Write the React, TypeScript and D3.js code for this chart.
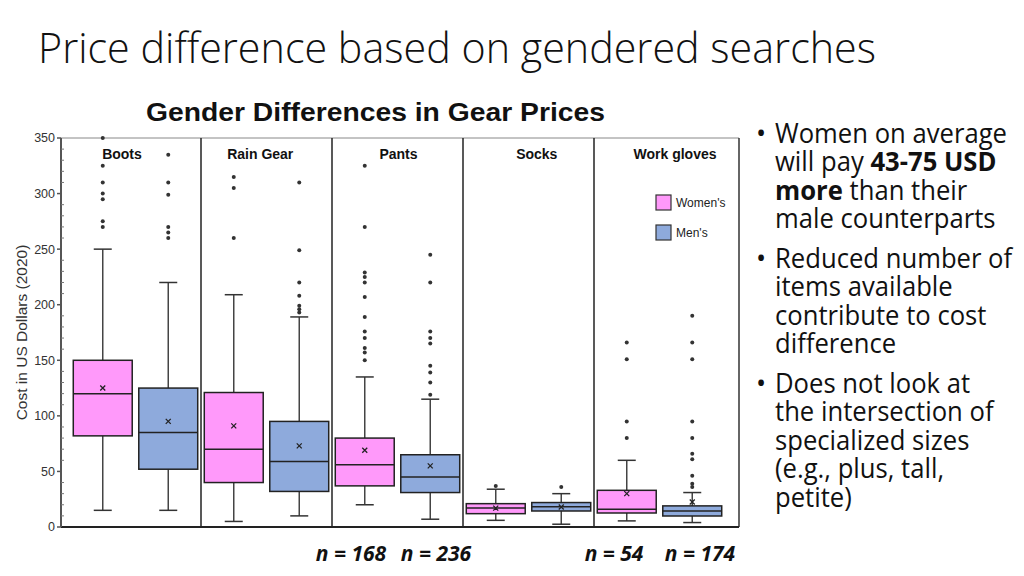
import React from "react";
import * as d3 from "d3";

const categories = ["Boots", "Rain Gear", "Pants", "Socks", "Work gloves"];
const genders = ["Women's", "Men's"];

const womenQ1 = [82, 40, 37, 12, 12.6];
const womenMedian = [120, 70, 56, 17, 16];
const womenQ3 = [150, 121, 80, 21, 33];
const womenLow = [15, 5, 20, 6, 5.5];
const womenHigh = [250, 209, 135, 34, 60];
const womenMean = [125, 91, 69, 17, 30];
const womenOutliers = [
  [350, 325, 310, 300, 295, 275, 270],
  [315, 305, 260],
  [325, 270, 229, 225, 220, 207, 189, 176, 170, 161, 157, 150],
  [37],
  [166, 151, 95, 80],
];

const menQ1 = [52, 32, 31, 14.4, 9.9];
const menMedian = [85, 59, 45, 18.3, 14.4];
const menQ3 = [125, 95, 65, 22, 19];
const menLow = [15, 10, 7, 2.5, 4];
const menHigh = [220, 189, 115, 30, 31];
const menMean = [95, 73, 55, 18, 22.5];
const menOutliers = [
  [335, 310, 299, 270, 265, 260],
  [310, 249, 220, 208, 199, 196, 193],
  [245, 220, 176, 170, 165, 145, 139, 130, 119],
  [36],
  [190, 166, 151, 95, 80, 66, 61, 46, 39, 36],
];

const yMajorTicks = [0, 50, 100, 150, 200, 250, 300, 350];
const sampleLabels = ["n = 168", "n = 236", "n = 54", "n = 174"];

const colors: Record<string, string> = { "Women's": "#ff99fa", "Men's": "#8eaadc" };

const slideTitle = "Price difference based on gendered searches";
const chartTitle = "Gender Differences in Gear Prices";
const yTitle = "Cost in US Dollars (2020)";

export default function App() {
  const W = 1024, H = 576;
  const frameLeft = 61, frameRight = 739, frameTop = 138, frameBottom = 527;
  const y = d3.scaleLinear().domain([0, 350]).range([frameBottom, frameTop]);
  const x0 = d3.scaleBand<string>().domain(categories).range([70, 725]).padding(0);
  const x1 = d3
    .scaleBand<string>()
    .domain(genders)
    .range([0, x0.bandwidth()])
    .paddingInner(0.1)
    .paddingOuter(0.05);
  const labelX = d3.scalePoint<string>().domain(categories).range([122, 675]);
  const minorTicks = d3.range(0, 351, 10).filter((v) => v % 50 !== 0);

  type Box = {
    cat: string; g: string; q1: number; med: number; q3: number; lo: number; hi: number; mean: number; out: number[];
  };
  const boxes: Box[] = [];
  categories.forEach((c, i) => {
    boxes.push({ cat: c, g: "Women's", q1: womenQ1[i], med: womenMedian[i], q3: womenQ3[i], lo: womenLow[i], hi: womenHigh[i], mean: womenMean[i], out: womenOutliers[i] });
    boxes.push({ cat: c, g: "Men's", q1: menQ1[i], med: menMedian[i], q3: menQ3[i], lo: menLow[i], hi: menHigh[i], mean: menMean[i], out: menOutliers[i] });
  });

  const bw = x1.bandwidth();
  const capHalf = 9;

  const bullets = [
    { lines: [[{ t: "Women on average" }], [{ t: "will pay " }, { t: "43-75 USD", b: true }], [{ t: "more", b: true }, { t: " than their" }], [{ t: "male counterparts" }]] },
    { lines: [[{ t: "Reduced number of" }], [{ t: "items available" }], [{ t: "contribute to cost" }], [{ t: "difference" }]] },
    { lines: [[{ t: "Does not look at" }], [{ t: "the intersection of" }], [{ t: "specialized sizes" }], [{ t: "(e.g., plus, tall," }], [{ t: "petite)" }]] },
  ];
  const bulletStarts = [143, 268, 393];
  const lineH = 28.4;

  const nX = [351, 436, 614, 700];

  return (
    <svg width={W} height={H} style={{ position: "absolute", left: 0, top: 0, background: "#fff" }}>
      <rect width={W} height={H} fill="#fff" />
      <text x={38} y={63} fontFamily="'Open Sans', sans-serif" fontWeight={300} fontSize={43} fill="#111" textLength={838} lengthAdjust="spacingAndGlyphs">
        {slideTitle}
      </text>
      <text x={146} y={121} fontFamily="'Liberation Sans', Arial, sans-serif" fontWeight="bold" fontSize={25} fill="#111" textLength={459} lengthAdjust="spacingAndGlyphs">
        {chartTitle}
      </text>

      {/* frame */}
      <line x1={frameLeft} x2={frameRight} y1={frameTop} y2={frameTop} stroke="#888" strokeWidth={1} />
      <line x1={frameRight} x2={frameRight} y1={frameTop} y2={frameBottom} stroke="#333" strokeWidth={1.5} />
      {categories.slice(1).map((c) => (
        <line key={c} x1={x0(c)!} x2={x0(c)!} y1={frameTop} y2={frameBottom} stroke="#222" strokeWidth={1.5} />
      ))}
      <line x1={frameLeft} x2={frameRight} y1={frameBottom} y2={frameBottom} stroke="#222" strokeWidth={2} />
      <line x1={frameLeft} x2={frameLeft} y1={frameTop} y2={frameBottom} stroke="#555" strokeWidth={2} />

      {/* y axis ticks */}
      {yMajorTicks.map((t) => (
        <g key={t}>
          <line x1={frameLeft - 4} x2={frameLeft} y1={y(t)} y2={y(t)} stroke="#555" strokeWidth={1.5} />
          <text x={frameLeft - 6} y={y(t)} dy="0.35em" textAnchor="end" fontFamily="'Liberation Sans', Arial, sans-serif" fontSize={12.5} fill="#333">
            {t}
          </text>
        </g>
      ))}
      {minorTicks.map((t) => (
        <line key={t} x1={frameLeft} x2={frameLeft + 3} y1={y(t)} y2={y(t)} stroke="#777" strokeWidth={1} />
      ))}
      <text transform={`translate(26.5,${(frameTop + frameBottom) / 2}) rotate(-90)`} textAnchor="middle" fontFamily="'Liberation Sans', Arial, sans-serif" fontSize={15.5} fill="#333">
        {yTitle}
      </text>

      {/* category labels */}
      {categories.map((c) => (
        <text key={c} x={labelX(c)!} y={159} textAnchor="middle" fontFamily="'Liberation Sans', Arial, sans-serif" fontWeight="bold" fontSize={14} fill="#111">
          {c}
        </text>
      ))}

      {/* boxes */}
      {boxes.map((b) => {
        const cx = x0(b.cat)! + x1(b.g)! + bw / 2;
        const left = x0(b.cat)! + x1(b.g)!;
        return (
          <g key={b.cat + b.g}>
            <line x1={cx} x2={cx} y1={y(b.q3)} y2={y(b.hi)} stroke="#444" strokeWidth={1.5} />
            <line x1={cx} x2={cx} y1={y(b.q1)} y2={y(b.lo)} stroke="#444" strokeWidth={1.5} />
            <line x1={cx - capHalf} x2={cx + capHalf} y1={y(b.hi)} y2={y(b.hi)} stroke="#333" strokeWidth={1.5} />
            <line x1={cx - capHalf} x2={cx + capHalf} y1={y(b.lo)} y2={y(b.lo)} stroke="#333" strokeWidth={1.5} />
            <rect x={left} width={bw} y={y(b.q3)} height={y(b.q1) - y(b.q3)} fill={colors[b.g]} stroke="#222" strokeWidth={1.5} />
            <line x1={left} x2={left + bw} y1={y(b.med)} y2={y(b.med)} stroke="#222" strokeWidth={1.5} />
            <path d={`M${cx - 2.5},${y(b.mean) - 2.5}L${cx + 2.5},${y(b.mean) + 2.5}M${cx - 2.5},${y(b.mean) + 2.5}L${cx + 2.5},${y(b.mean) - 2.5}`} stroke="#222" strokeWidth={1.3} />
            {b.out.map((o, k) => (
              <circle key={k} cx={cx} cy={y(o)} r={2} fill="#333" />
            ))}
          </g>
        );
      })}

      {/* legend */}
      {genders.map((g, i) => (
        <g key={g} transform={`translate(656,${195 + i * 30})`}>
          <rect width={15} height={15} fill={colors[g]} stroke="#333" strokeWidth={1.2} />
          <text x={20} y={7.5} dy="0.35em" fontFamily="'Liberation Sans', Arial, sans-serif" fontSize={12} fill="#222">
            {g}
          </text>
        </g>
      ))}

      {/* n labels */}
      {sampleLabels.map((s, i) => (
        <text key={s} x={nX[i]} y={561} textAnchor="middle" fontFamily="'Open Sans', sans-serif" fontWeight="bold" fontStyle="italic" fontSize={21} fill="#111">
          {s}
        </text>
      ))}

      {/* bullets */}
      {bullets.map((bl, i) => (
        <g key={i}>
          <text x={756} y={bulletStarts[i]} fontFamily="'Open Sans', sans-serif" fontSize={27} fill="#111">•</text>
          <g transform={`translate(775,0) scale(0.95,1)`}>
            {bl.lines.map((ln, j) => (
              <text key={j} x={0} y={bulletStarts[i] + j * lineH} fontFamily="'Open Sans', sans-serif" fontSize={27} fill="#111">
                {ln.map((seg: any, k: number) => (
                  <tspan key={k} fontWeight={seg.b ? "bold" : "normal"}>{seg.t}</tspan>
                ))}
              </text>
            ))}
          </g>
        </g>
      ))}
    </svg>
  );
}
